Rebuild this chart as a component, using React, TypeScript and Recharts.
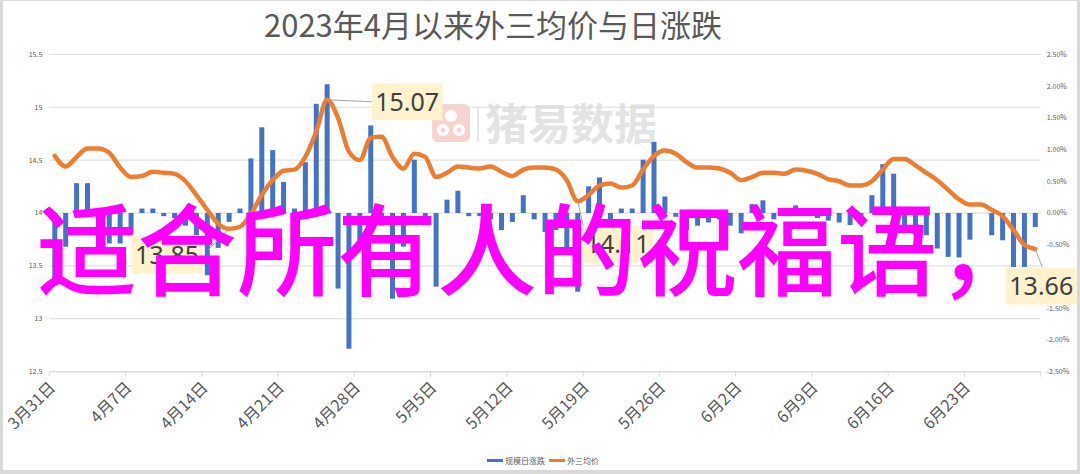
import React from "react";
import {
  ComposedChart,
  Bar,
  Line,
  XAxis,
  YAxis,
  CartesianGrid,
  LabelList,
} from "recharts";

// 外三均价 vs 规模日涨跌, daily from 3/31 to 6/29 (2023)
const TITLE = "2023年4月以来外三均价与日涨跌";
const OVERLAY_TEXT = "适合所有人的祝福语，";
const WATERMARK = "猪易数据";
const SERIES_NAMES = ["规模日涨跌", "外三均价"];

// day offsets from 3/31 where the weekly ticks sit (last one = axis end)
const TICK_DAYS = [0, 7, 14, 21, 28, 35, 42, 49, 56, 63, 70, 77, 84, 91];
const TICK_LABELS = [
  "3月31日", "4月7日", "4月14日", "4月21日", "4月28日", "5月5日", "5月12日",
  "5月19日", "5月26日", "6月2日", "6月9日", "6月16日", "6月23日", "",
];

const LEFT_TICKS = [12.5, 13, 13.5, 14, 14.5, 15, 15.5];
const RIGHT_TICKS = [-2.5, -2, -1.5, -1, -0.5, 0, 0.5, 1, 1.5, 2, 2.5];

// 外三均价 (元/kg)
const PRICE = [
  14.54, 14.44, 14.53, 14.61, 14.61, 14.57, 14.43, 14.34, 14.35, 14.39,
  14.38, 14.37, 14.30, 14.17, 14.03, 13.90, 13.85, 13.87, 13.99, 14.17,
  14.31, 14.40, 14.41, 14.53, 14.77, 15.07, 14.90, 14.58, 14.50, 14.71,
  14.72, 14.53, 14.42, 14.56, 14.53, 14.34, 14.38, 14.44, 14.43, 14.42,
  14.44, 14.39, 14.35, 14.41, 14.43, 14.43, 14.41, 14.31, 14.11, 14.17,
  14.26, 14.28, 14.24, 14.26, 14.41, 14.54, 14.59, 14.56, 14.48, 14.43,
  14.43, 14.42, 14.38, 14.31, 14.34, 14.38, 14.38, 14.37, 14.41, 14.40,
  14.37, 14.32, 14.30, 14.26, 14.26, 14.30, 14.41, 14.51, 14.51, 14.45,
  14.38, 14.31, 14.22, 14.13, 14.08, 14.08, 14.03, 13.97, 13.84, 13.70,
  13.66,
];

// 规模日涨跌 (%)
const CHANGE = [
  -1.14, -0.53, 0.47, 0.47, -0.10, -0.48, -0.48, -0.32, 0.07, 0.07,
  -0.05, -0.08, -0.20, -0.35, -0.98, -0.55, -0.14, 0.07, 0.86, 1.35,
  0.99, 0.49, 0.07, 0.80, 1.72, 2.03, -1.19, -2.14, -0.43, 1.38,
  -0.20, -1.35, -0.53, 0.84, -0.19, -1.16, 0.21, 0.35, -0.05, -0.05,
  -0.10, -0.27, -0.14, 0.28, -0.10, -0.30, -0.27, -0.59, -1.24, 0.42,
  0.56, -0.20, 0.07, 0.07, 0.84, 1.12, 0.26, -0.06, -0.27, -0.20,
  -0.15, -0.10, -0.20, -0.32, 0.14, 0.20, -0.10, -0.05, 0.12, -0.05,
  -0.08, -0.12, -0.15, -0.19, -0.10, 0.28, 0.77, 0.62, -0.30, -0.34,
  -0.35, -0.56, -0.69, -0.70, -0.42, 0.00, -0.35, -0.43, -0.85, -0.85,
  -0.22,
];

const BLUE = "#4472C4";
const ORANGE = "#ED7D31";
const GRID = "#D9D9D9";
const AXIS_TEXT = "#595959";
const CJK = "'Noto Sans CJK SC', 'Noto Sans', sans-serif";

// callout boxes on the price line: box centre offset + leader end offset
const CALLOUTS: Record<number, { dx: number; dy: number; lx: number; ly: number }> = {
  16: { dx: -62, dy: 26, lx: -21, ly: 21 },
  25: { dx: 80, dy: 2, lx: 45, ly: 2 },
  48: { dx: 40, dy: 43, lx: 6, ly: 26 },
  90: { dx: 6, dy: 37, lx: 7, ly: 18 },
};

const data = PRICE.map((p, i) => ({ day: i + 0.5, price: p, change: CHANGE[i] }));

function DateTick(props: any) {
  const { x, y, payload } = props;
  const label = TICK_LABELS[TICK_DAYS.indexOf(payload.value)];
  if (!label) return null;
  const ax = x + 7;
  const ay = y + 10;
  return (
    <text
      x={ax}
      y={ay}
      transform={`rotate(-45 ${ax} ${ay})`}
      textAnchor="end"
      fontSize={16}
      fill={AXIS_TEXT}
      fontFamily={CJK}
    >
      {label}
    </text>
  );
}

function Callout(props: any) {
  const { index, value } = props;
  const c = CALLOUTS[index];
  if (!c) return null;
  const x = props.viewBox?.x ?? props.x;
  const y = props.viewBox?.y ?? props.y;
  const w = 71;
  const h = 37;
  const cx = x + c.dx;
  const cy = y + c.dy;
  return (
    <g>
      <line x1={x} y1={y} x2={x + c.lx} y2={y + c.ly} stroke="#A6A6A6" strokeWidth={1} />
      <rect x={cx - w / 2} y={cy - h / 2} width={w} height={h} fill="#FFF2CC" />
      <text
        x={cx}
        y={cy + 9}
        textAnchor="middle"
        fontSize={25}
        fill="#404040"
        fontFamily="'Noto Sans', sans-serif"
      >
        {Number(value).toFixed(2)}
      </text>
    </g>
  );
}

export default function App() {
  return (
    <div style={{ position: "absolute", left: 0, top: 0, width: 1080, height: 474, background: "#D9D9D9" }}>
      <div style={{ position: "absolute", left: 3, top: 1, width: 1074, height: 469, background: "#fff" }} />

      {/* faded source watermark, under the chart */}
      <svg width={1080} height={474} style={{ position: "absolute", left: 0, top: 0 }}>
        <rect x={432} y={104} width={38} height={38} rx={6} fill="#F7D3CF" />
        <circle cx={451} cy={116} r={6} fill="#fff" />
        <circle cx={443} cy={130} r={6} fill="#fff" />
        <circle cx={459} cy={130} r={6} fill="#fff" />
        <circle cx={443} cy={130} r={2.5} fill="#F7D3CF" />
        <circle cx={459} cy={130} r={2.5} fill="#F7D3CF" />
        <line x1={478} y1={106} x2={478} y2={142} stroke="#E6E6E6" strokeWidth={2} />
        <text x={485} y={140} fontSize={43} fontWeight={700} fill="#E3E3E3" fontFamily={CJK}>
          {WATERMARK}
        </text>
      </svg>

      <div style={{ position: "absolute", left: 0, top: 0 }}>
        <ComposedChart
          width={1080}
          height={474}
          data={data}
          margin={{ top: 54.3, right: 4.3, bottom: 22.3, left: 9.3 }}
        >
          <CartesianGrid xAxisId="d" yAxisId="left" vertical={false} stroke={GRID} />
          <XAxis
            xAxisId="d"
            dataKey="day"
            type="number"
            domain={[0, 91]}
            ticks={TICK_DAYS}
            interval={0}
            tick={<DateTick />}
            tickSize={5}
            tickLine={{ stroke: GRID }}
            axisLine={{ stroke: GRID }}
            height={80}
          />
          <YAxis
            yAxisId="left"
            domain={[12.5, 15.5]}
            ticks={LEFT_TICKS}
            axisLine={false}
            tickLine={false}
            tickSize={0}
            tickMargin={7}
            width={40}
            tick={{ fontSize: 7, fill: AXIS_TEXT, fontFamily: CJK }}
          />
          <YAxis
            yAxisId="right"
            orientation="right"
            domain={[-2.5, 2.5]}
            ticks={RIGHT_TICKS}
            tickFormatter={(v: number) => v.toFixed(2) + "%"}
            axisLine={false}
            tickLine={false}
            tickSize={0}
            tickMargin={6}
            width={35}
            tick={{ fontSize: 7, fill: AXIS_TEXT, fontFamily: CJK, textAnchor: "start" }}
          />
          <Bar
            xAxisId="d"
            yAxisId="right"
            dataKey="change"
            name={SERIES_NAMES[0]}
            fill={BLUE}
            barSize={5}
            isAnimationActive={false}
          />
          <Line
            xAxisId="d"
            yAxisId="left"
            dataKey="price"
            name={SERIES_NAMES[1]}
            type="monotone"
            stroke={ORANGE}
            strokeWidth={4.5}
            strokeLinecap="round"
            strokeLinejoin="round"
            dot={false}
            isAnimationActive={false}
          >
            <LabelList dataKey="price" content={<Callout />} />
          </Line>
        </ComposedChart>
      </div>

      {/* title, legend and the magenta overlay text */}
      <svg width={1080} height={474} style={{ position: "absolute", left: 0, top: 0, pointerEvents: "none" }}>
        <text x={493} y={37} textAnchor="middle" fontSize={31} fill={AXIS_TEXT} fontFamily={CJK}>
          {TITLE}
        </text>
        <rect x={487} y={459} width={16} height={3} fill={BLUE} />
        <text x={505} y={464} fontSize={8} fill={AXIS_TEXT} fontFamily={CJK}>
          {SERIES_NAMES[0]}
        </text>
        <rect x={549} y={459} width={16} height={3} fill={ORANGE} />
        <text x={567} y={464} fontSize={8} fill={AXIS_TEXT} fontFamily={CJK}>
          {SERIES_NAMES[1]}
        </text>
        <text x={37} y={288} fontSize={100} fontWeight={500} fill="#FF00FF" fontFamily={CJK}>
          {OVERLAY_TEXT}
        </text>
      </svg>
    </div>
  );
}
